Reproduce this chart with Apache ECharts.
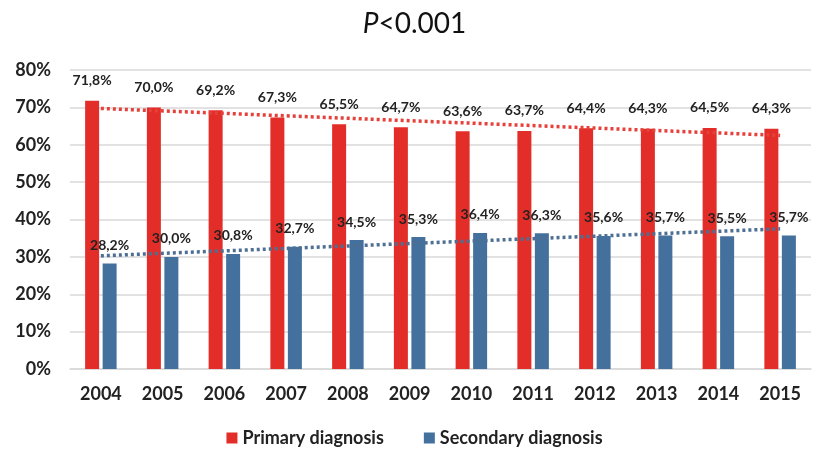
<!DOCTYPE html>
<html>
<head>
<meta charset="utf-8">
<script src="https://cdn.jsdelivr.net/npm/echarts@6/dist/echarts.min.js"></script>
<style>
  html, body { margin: 0; padding: 0; background: #ffffff; }
  #chart { width: 829px; height: 473px; }
</style>
</head>
<body>
<div id="chart"></div>
<script>
const years = ['2004', '2005', '2006', '2007', '2008', '2009', '2010', '2011', '2012', '2013', '2014', '2015'];
const primary = [71.8, 70.0, 69.2, 67.3, 65.5, 64.7, 63.6, 63.7, 64.4, 64.3, 64.5, 64.3];
const secondary = [28.2, 30.0, 30.8, 32.7, 34.5, 35.3, 36.4, 36.3, 35.6, 35.7, 35.5, 35.7];
// trend line end points (first and last year)
const primaryTrend = [69.7, 62.5];
const secondaryTrend = [30.3, 37.5];

const FONT = 'Lato, "DejaVu Sans", sans-serif';
const RED = '#E32D28';
const BLUE = '#43709D';

const chart = echarts.init(document.getElementById('chart'));

const pctLabel = (p) => p.value.toFixed(1).replace('.', ',') + '%';

chart.setOption({
  backgroundColor: '#ffffff',
  textStyle: { fontFamily: FONT },
  title: {
    text: '{i|P}<0.001',
    left: 'center',
    top: 5,
    textStyle: {
      fontFamily: FONT,
      fontSize: 28,
      fontWeight: 'normal',
      color: '#111',
      rich: {
        i: { fontFamily: FONT, fontSize: 28, fontStyle: 'italic', color: '#111' }
      }
    }
  },
  legend: {
    data: ['Primary diagnosis', 'Secondary diagnosis'],
    bottom: 21,
    left: 'center',
    itemWidth: 11,
    itemHeight: 11,
    itemGap: 40,
    icon: 'rect',
    textStyle: { fontFamily: FONT, fontSize: 18, fontWeight: 'bold', color: '#222' }
  },
  grid: { left: 70, right: 18, top: 70, bottom: 104 },
  xAxis: {
    type: 'category',
    data: years,
    axisTick: { show: false },
    axisLine: { lineStyle: { color: '#D9D9D9', width: 1.5 } },
    axisLabel: { margin: 16, fontFamily: FONT, fontSize: 18, fontWeight: 'bold', color: '#222' }
  },
  yAxis: {
    type: 'value',
    min: 0,
    max: 80,
    interval: 10,
    axisLine: { show: false },
    axisTick: { show: false },
    splitLine: { lineStyle: { color: '#D9D9D9', width: 1.5 } },
    axisLabel: {
      margin: 19,
      formatter: '{value}%',
      fontFamily: FONT, fontSize: 18, fontWeight: 'bold', color: '#222'
    }
  },
  series: [
    {
      name: 'Primary diagnosis',
      type: 'bar',
      data: primary,
      barWidth: 14,
      barGap: '25%',
      itemStyle: { color: RED },
      label: {
        show: true, position: 'top', distance: 13,
        formatter: pctLabel,
        fontFamily: FONT, fontSize: 14, fontWeight: 'bold', color: '#222'
      }
    },
    {
      name: 'Secondary diagnosis',
      type: 'bar',
      data: secondary,
      barWidth: 14,
      itemStyle: { color: BLUE },
      label: {
        show: true, position: 'top', distance: 11,
        formatter: pctLabel,
        fontFamily: FONT, fontSize: 14, fontWeight: 'bold', color: '#222'
      }
    },
    {
      name: 'Primary trend',
      type: 'line',
      data: [[0, primaryTrend[0]], [years.length - 1, primaryTrend[1]]],
      symbol: 'none',
      z: 5,
      lineStyle: { color: '#E5403A', width: 3.5, type: [3, 3] },
      silent: true
    },
    {
      name: 'Secondary trend',
      type: 'line',
      data: [[0, secondaryTrend[0]], [years.length - 1, secondaryTrend[1]]],
      symbol: 'none',
      z: 5,
      lineStyle: { color: '#4D6F93', width: 3.5, type: [3, 3] },
      silent: true
    }
  ]
});

window.addEventListener('resize', () => chart.resize());
</script>
</body>
</html>
